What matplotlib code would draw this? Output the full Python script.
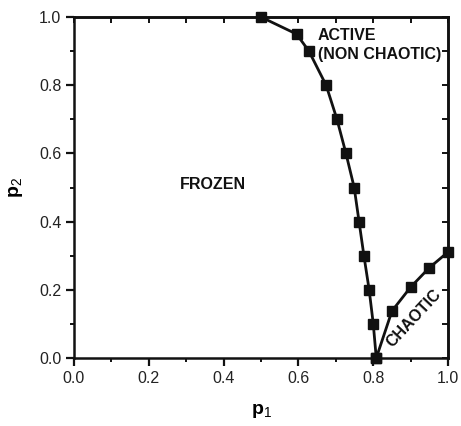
import matplotlib.pyplot as plt
from matplotlib.ticker import MultipleLocator

# --- Data ---
# boundary between frozen and active phases
p1_upper = [0.50, 0.595, 0.628, 0.674, 0.703, 0.727, 0.749, 0.762, 0.775, 0.789, 0.800, 0.808]
p2_upper = [1.00, 0.95, 0.90, 0.80, 0.70, 0.60, 0.50, 0.40, 0.30, 0.20, 0.10, 0.00]

# boundary of the chaotic phase
p1_lower = [0.808, 0.850, 0.900, 0.949, 1.000]
p2_lower = [0.000, 0.138, 0.208, 0.264, 0.311]

ticks = [0.0, 0.2, 0.4, 0.6, 0.8, 1.0]

plt.rcParams["font.family"] = ["Liberation Sans", "DejaVu Sans"]
plt.rcParams["mathtext.fontset"] = "custom"
plt.rcParams["mathtext.rm"] = "Liberation Sans"
plt.rcParams["mathtext.bf"] = "Liberation Sans:bold"

ink = "#111111"

fig = plt.figure(figsize=(4.61, 4.26), dpi=100)
ax = fig.add_axes([0.1605, 0.1596, 0.8115, 0.8004])

style = dict(color=ink, linewidth=2.0, marker="s", markersize=7.5,
             markerfacecolor=ink, markeredgecolor=ink, clip_on=False, zorder=3)
ax.plot(p1_upper, p2_upper, **style)
ax.plot(p1_lower, p2_lower, **style)

ax.set_xlim(0, 1)
ax.set_ylim(0, 1)
ax.set_xticks(ticks)
ax.set_yticks(ticks)
ax.set_xticklabels([f"{t:.1f}" for t in ticks])
ax.set_yticklabels([f"{t:.1f}" for t in ticks])
ax.xaxis.set_minor_locator(MultipleLocator(0.1))
ax.yaxis.set_minor_locator(MultipleLocator(0.1))

for s in ax.spines.values():
    s.set_linewidth(1.8)
    s.set_color(ink)

ax.tick_params(which="major", direction="out", length=6, width=1.6, labelsize=11.5,
               colors=ink, labelcolor="#222222", pad=3)
ax.tick_params(which="minor", direction="out", length=3, width=1.4, colors=ink)

# short inward ticks on top and right, no labels
top = ax.secondary_xaxis("top")
right = ax.secondary_yaxis("right")
for twin, axis in ((top, top.xaxis), (right, right.yaxis)):
    axis.set_major_locator(MultipleLocator(0.2))
    axis.set_minor_locator(MultipleLocator(0.1))
    twin.tick_params(which="both", direction="in", length=4, width=1.4, colors=ink,
                     labeltop=False, labelright=False)
top.spines["top"].set_linewidth(1.8)
right.spines["right"].set_linewidth(1.8)

ax.set_xlabel(r"$\mathbf{p}_\mathrm{1}$", fontsize=14, labelpad=12)
ax.set_ylabel(r"$\mathbf{p}_\mathrm{2}$", fontsize=14, labelpad=10)

lab = dict(fontsize=11.5, fontweight="bold", color=ink)
ax.text(0.372, 0.51, "FROZEN", ha="center", va="center", **lab)
ax.text(0.652, 0.947, "ACTIVE", ha="left", va="center", **lab)
ax.text(0.652, 0.889, "(NON CHAOTIC)", ha="left", va="center", **lab)
ax.text(0.909, 0.115, "CHAOTIC", ha="center", va="center", rotation=47, **lab)

fig.savefig("out.png", dpi=100)
